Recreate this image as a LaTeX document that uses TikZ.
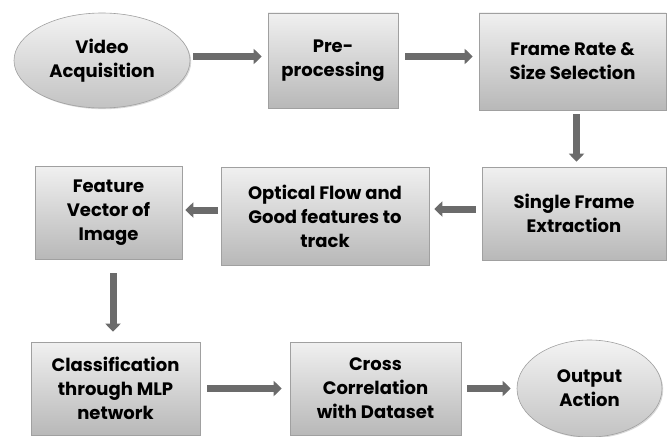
\documentclass[tikz,border=0pt]{standalone}
\usepackage{fontspec}
\setmainfont{Poppins}
\usetikzlibrary{arrows.meta,shapes.geometric,shadows}
\definecolor{arrgray}{HTML}{6B6B6B}
\definecolor{edgegray}{HTML}{A0A0A0}
\definecolor{topgray}{HTML}{F0F0F0}
\definecolor{botgray}{HTML}{B8B8B8}
\tikzset{
  base/.style={draw=edgegray, line width=0.6pt, top color=topgray, bottom color=botgray,
    align=center, inner sep=0pt, font=\fontsize{18}{24}\selectfont\bfseries,
    drop shadow={shadow xshift=1.2pt, shadow yshift=-1.2pt, fill=black!30, opacity=0.5}},
  procbox/.style={base, rectangle},
  ovalbox/.style={base, ellipse, top color=topgray!80!white, bottom color=botgray!85!white},
  arr/.style={draw=arrgray, line width=7pt, -{Triangle[width=15pt,length=8pt]}},
}
\begin{document}
\begin{tikzpicture}[x=1pt,y=1pt]
\useasboundingbox (0,0) rectangle (668,-436);
\node[ovalbox, minimum width=176pt, minimum height=95pt] (va) at (102,-60.5) {Video\\Acquisition};
\node[procbox, minimum width=130pt, minimum height=95pt] (pre) at (333,-60.5) {Pre-\\processing};
\node[procbox, minimum width=187pt, minimum height=97pt] (frs) at (572.5,-61.5) {Frame Rate \&\\Size Selection};
\node[procbox, minimum width=184pt, minimum height=93pt] (sfe) at (574,-213.5) {Single Frame\\Extraction};
\node[procbox, minimum width=208pt, minimum height=98pt] (ofg) at (325,-216) {Optical Flow and\\Good features to\\track};
\node[procbox, minimum width=147pt, minimum height=93pt] (fvi) at (108.5,-212.5) {Feature\\Vector of\\Image};
\node[procbox, minimum width=169pt, minimum height=93pt] (cls) at (115.5,-388.5) {Classification\\through MLP\\network};
\node[procbox, minimum width=171pt, minimum height=93pt] (ccd) at (375.5,-388.5) {Cross\\Correlation\\with Dataset};
\node[ovalbox, minimum width=145pt, minimum height=97pt] (out) at (589.5,-388.5) {Output\\Action};

\draw[arr] ([xshift=3pt,yshift=4pt]va.east) -- ([xshift=-6pt,yshift=4pt]va.east -| pre.west);
\draw[arr] ([xshift=7pt,yshift=4pt]pre.east) -- ([xshift=-6pt,yshift=4pt]pre.east -| frs.west);
\draw[arr] ([xshift=4pt,yshift=-4pt]frs.south) -- ([xshift=4pt,yshift=5pt]frs.south |- sfe.north);
\draw[arr] ([xshift=-6pt,yshift=4.5pt]sfe.west) -- ([xshift=5pt,yshift=4.5pt]sfe.west -| ofg.east);
\draw[arr] ([xshift=-3pt,yshift=6pt]ofg.west) -- ([xshift=3pt,yshift=6pt]ofg.west -| fvi.east);
\draw[arr] ([xshift=4.5pt,yshift=-14pt]fvi.south) -- ([xshift=4.5pt,yshift=10pt]fvi.south |- cls.north);
\draw[arr] ([xshift=7pt]cls.east) -- ([xshift=-8pt]ccd.west);
\draw[arr] ([xshift=6pt]ccd.east) -- ([xshift=-6pt]ccd.east -| out.west);
\end{tikzpicture}
\end{document}
